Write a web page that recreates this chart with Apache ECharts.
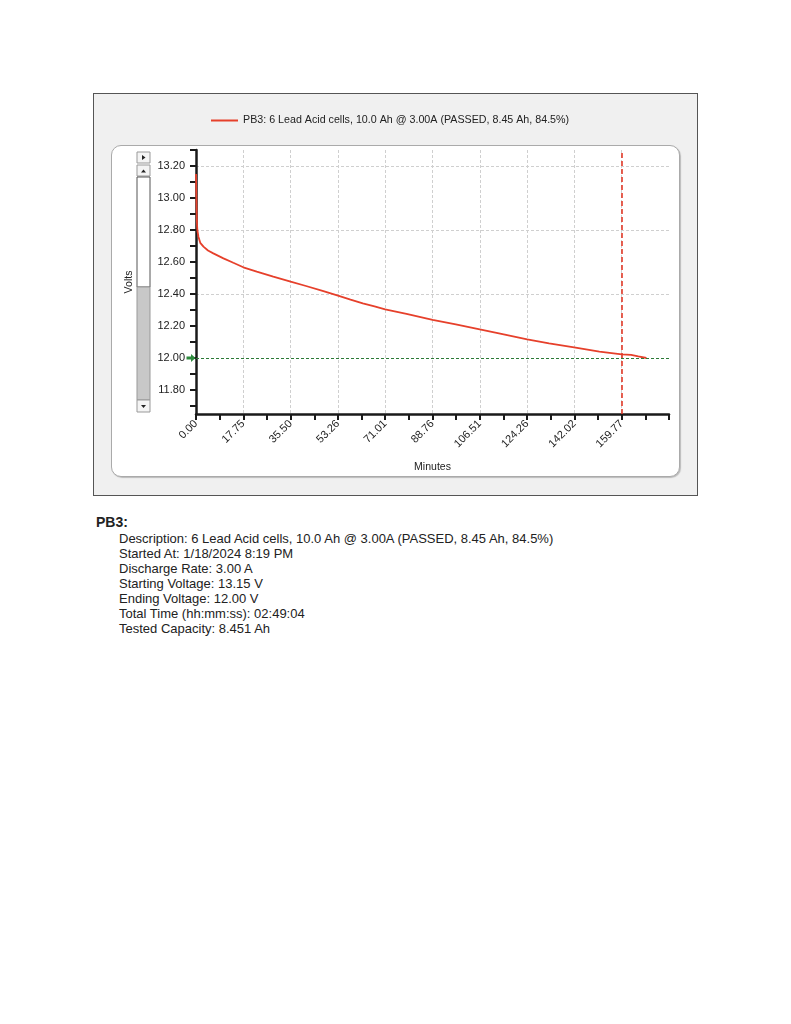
<!DOCTYPE html>
<html>
<head>
<meta charset="utf-8">
<title>PB3 discharge test</title>
<script src="https://cdn.jsdelivr.net/npm/echarts@6/dist/echarts.min.js"></script>
<style>
  body { margin: 0; background: #fff; font-family: Arial, "Liberation Sans", sans-serif; color: #222; }
  #frame { position: absolute; left: 93px; top: 93px; width: 603px; height: 401px; background: #f0f0f0; border: 1px solid #555; }
  #plotBox { position: absolute; left: 111px; top: 145px; width: 567px; height: 330px; background: #fff; border: 1px solid #aaa; border-radius: 10px; box-shadow: 1px 1px 1px #bbb; }
  #mainChart { position: absolute; left: 93px; top: 93px; width: 605px; height: 403px; }
  #info { position: absolute; left: 96px; top: 513px; }
  #info h3 { margin: 0; font-size: 14px; font-weight: bold; line-height: 18px; }
  #info ul { list-style: none; margin: 0 0 0 23px; padding: 0; font-size: 13px; line-height: 15px; }
</style>
</head>
<body>
<div id="frame"></div>
<div id="plotBox"></div>
<div id="mainChart"></div>
<div id="info">
  <h3>PB3:</h3>
  <ul>
    <li>Description: 6 Lead Acid cells, 10.0 Ah @ 3.00A (PASSED, 8.45 Ah, 84.5%)</li>
    <li>Started At: 1/18/2024 8:19 PM</li>
    <li>Discharge Rate: 3.00 A</li>
    <li>Starting Voltage: 13.15 V</li>
    <li>Ending Voltage: 12.00 V</li>
    <li>Total Time (hh:mm:ss): 02:49:04</li>
    <li>Tested Capacity: 8.451 Ah</li>
  </ul>
</div>
<script>
// 放电曲线 (minutes / volts)
const seriesName = 'PB3: 6 Lead Acid cells, 10.0 Ah @ 3.00A (PASSED, 8.45 Ah, 84.5%)'
const timeMin = [0, 0.15, 0.3, 0.5, 0.9, 1.6, 2.8, 4.5, 6.5, 10.3, 14, 17.75, 22.8, 29, 35.5, 41.3, 47.5, 53.3, 58, 62.6, 67, 71, 79, 88.8, 97.5, 106.5, 113.7, 124.3, 132.5, 141.9, 151.4, 159.8, 163.3, 166, 169.07]
const volts = [13.15, 13.0, 12.86, 12.8, 12.758, 12.72, 12.696, 12.672, 12.654, 12.623, 12.595, 12.567, 12.54, 12.508, 12.477, 12.45, 12.42, 12.39, 12.365, 12.342, 12.322, 12.304, 12.276, 12.238, 12.21, 12.179, 12.154, 12.117, 12.092, 12.067, 12.04, 12.023, 12.019, 12.01, 12.0]

// axis ticks
const yLabelValues = [11.8, 12.0, 12.2, 12.4, 12.6, 12.8, 13.0, 13.2]
const yTickValues = [11.7, 11.8, 11.9, 12.0, 12.1, 12.2, 12.3, 12.4, 12.5, 12.6, 12.7, 12.8, 12.9, 13.0, 13.1, 13.2, 13.3]
const xLabelValues = [0, 17.752, 35.504, 53.256, 71.008, 88.76, 106.512, 124.264, 142.016, 159.768]

const cutoffVolts = 12.0
const markerMin = 159.77

const lineData = timeMin.map((t, i) => [t, volts[i]])

const myChart = echarts.init(document.getElementById('mainChart'))

const btn = { fill: '#f4f4f4', stroke: '#999', lineWidth: 1 }
const arrow = { fill: '#222' }

myChart.setOption({
  animation: false,
  textStyle: { fontFamily: 'Arial, "Liberation Sans", sans-serif' },
  legend: {
    left: 113,
    top: 17,
    icon: 'rect',
    itemWidth: 27,
    itemHeight: 2,
    itemGap: 6,
    textStyle: { fontSize: 10.7, color: '#222' },
    data: [seriesName],
  },
  grid: { left: 103, top: 57, width: 473, height: 264 },
  xAxis: {
    type: 'value',
    min: 0,
    max: 177.52,
    interval: 8.876,
    name: 'Minutes',
    nameLocation: 'middle',
    nameGap: 48,
    nameTextStyle: { fontSize: 10.5, color: '#222' },
    axisLine: { onZero: false, lineStyle: { color: '#1a1a1a', width: 2.5 } },
    axisTick: { length: 6, lineStyle: { color: '#1a1a1a', width: 2 } },
    axisLabel: {
      customValues: xLabelValues,
      rotate: 45,
      margin: 8,
      fontSize: 11,
      color: '#222',
      formatter: v => v.toFixed(2),
    },
    splitLine: {
      show: true,
      showMaxLine: false,
      lineStyle: { color: ['#cfcfcf', 'transparent'], type: [3, 2], width: 1 },
    },
  },
  yAxis: {
    type: 'value',
    min: 11.65,
    max: 13.3,
    interval: 0.05,
    name: 'Volts',
    nameLocation: 'middle',
    nameGap: 61,
    nameRotate: 90,
    nameTextStyle: { fontSize: 10.5, color: '#222' },
    axisLine: { show: true, onZero: false, lineStyle: { color: '#1a1a1a', width: 2.5 } },
    axisTick: { show: true, customValues: yTickValues, length: 6, lineStyle: { color: '#1a1a1a', width: 2 } },
    axisLabel: {
      customValues: yLabelValues,
      margin: 11,
      fontSize: 11,
      color: '#222',
      formatter: v => v.toFixed(2),
    },
    splitLine: {
      show: true,
      // only every 0.2 V gets a grid line
      lineStyle: { color: ['transparent', 'transparent', 'transparent', '#cfcfcf'], type: [3, 2], width: 1 },
    },
  },
  // the little scroll bar left of the y axis
  graphic: [
    { type: 'rect', shape: { x: 44, y: 59, width: 13, height: 11 }, style: btn },
    { type: 'polygon', shape: { points: [[49, 62], [52.5, 64.5], [49, 67]] }, style: arrow },
    { type: 'rect', shape: { x: 44, y: 72, width: 13, height: 11 }, style: btn },
    { type: 'polygon', shape: { points: [[48, 79.5], [53, 79.5], [50.5, 76.5]] }, style: arrow },
    { type: 'rect', shape: { x: 44, y: 84, width: 13, height: 110 }, style: { fill: '#fff', stroke: '#555', lineWidth: 1 } },
    { type: 'rect', shape: { x: 44, y: 194, width: 13, height: 113 }, style: { fill: '#c8c8c8', stroke: '#999', lineWidth: 1 } },
    { type: 'rect', shape: { x: 44, y: 307, width: 13, height: 12 }, style: btn },
    { type: 'polygon', shape: { points: [[48, 312], [53, 312], [50.5, 315]] }, style: arrow },
  ],
  series: [
    {
      name: seriesName,
      type: 'line',
      data: lineData,
      symbol: 'none',
      showSymbol: false,
      lineStyle: { color: '#e6402b', width: 1.8 },
      itemStyle: { color: '#e6402b' },
      z: 3,
      markLine: {
        silent: true,
        symbol: 'none',
        label: { show: false },
        data: [
          { xAxis: markerMin, lineStyle: { color: '#e23a28', width: 1.6, type: [5, 3] } },
          { yAxis: cutoffVolts, lineStyle: { color: '#2b7a36', width: 1, type: [3, 2] } },
        ],
      },
      markPoint: {
        silent: true,
        symbol: 'path://M0,3 L5,3 L5,0 L10,5 L5,10 L5,7 L0,7 Z',
        symbolSize: [9, 8],
        symbolOffset: [-5, 0],
        label: { show: false },
        itemStyle: { color: '#2e8b3e' },
        data: [{ coord: [0, cutoffVolts] }],
      },
    },
  ],
})
</script>
</body>
</html>
